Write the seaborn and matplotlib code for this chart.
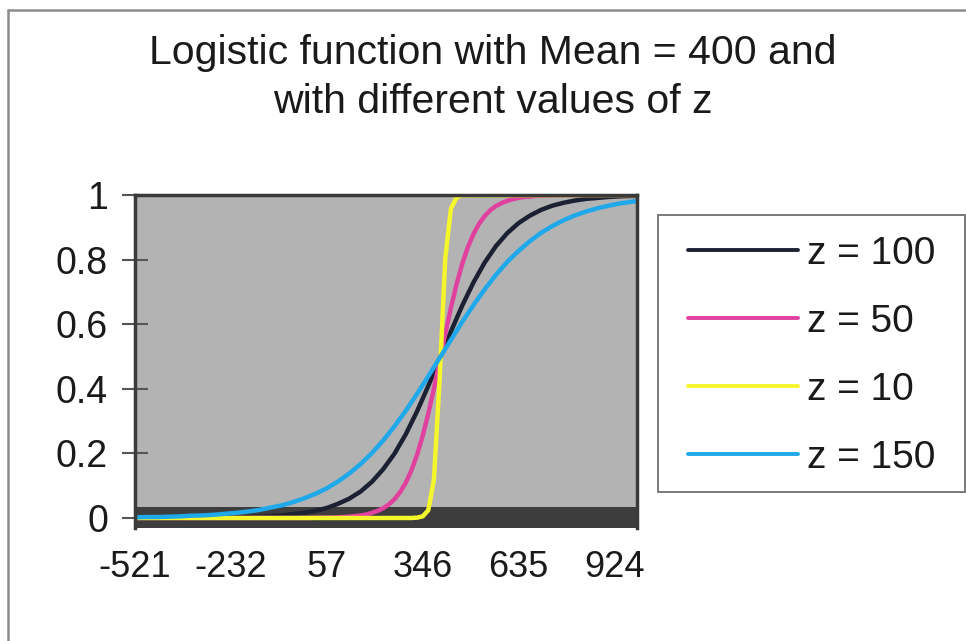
import matplotlib
matplotlib.use("Agg")
import matplotlib.pyplot as plt
from matplotlib.lines import Line2D
from matplotlib.patches import Rectangle
import seaborn as sns
import pandas as pd

# ---------------- data ----------------
x_ticks = [-521, -232, 57, 346, 635, 924]

x_z150 = [-521, -487, -453, -419, -385, -351, -317, -283, -249, -215, -181, -147,
          -113, -79, -45, -11, 23, 57, 91, 125, 159, 193, 227, 261, 295, 329, 363,
          397, 431, 465, 499, 533, 567, 601, 635, 669, 703, 737, 771, 805, 839, 873,
          907, 941, 975, 992]
y_z150 = [0.002, 0.003, 0.003, 0.004, 0.005, 0.007, 0.008, 0.010, 0.013, 0.016, 0.020,
          0.025, 0.032, 0.039, 0.049, 0.061, 0.075, 0.092, 0.113, 0.138, 0.167, 0.201,
          0.240, 0.284, 0.332, 0.384, 0.439, 0.495, 0.551, 0.607, 0.659, 0.708, 0.753,
          0.793, 0.827, 0.857, 0.883, 0.904, 0.922, 0.937, 0.949, 0.959, 0.967, 0.974,
          0.979, 0.981]

x_z100 = x_z150
y_z100 = [0.000, 0.000, 0.000, 0.000, 0.000, 0.001, 0.001, 0.001, 0.002, 0.002, 0.003,
          0.004, 0.006, 0.008, 0.012, 0.016, 0.022, 0.031, 0.044, 0.060, 0.082, 0.112,
          0.151, 0.199, 0.259, 0.330, 0.409, 0.493, 0.577, 0.657, 0.729, 0.791, 0.842,
          0.882, 0.913, 0.936, 0.954, 0.967, 0.976, 0.983, 0.988, 0.991, 0.994, 0.996,
          0.997, 0.997]

x_z50 = [-521, -11, 6, 23, 40, 57, 74, 91, 108, 125, 142, 159, 176, 193, 210, 227, 244,
         261, 278, 295, 312, 329, 346, 363, 380, 397, 414, 431, 448, 465, 482, 499, 516,
         533, 550, 567, 584, 601, 618, 635, 652, 669, 686, 703, 720, 737, 805, 992]
y_z50 = [0.000, 0.000, 0.000, 0.001, 0.001, 0.001, 0.001, 0.002, 0.003, 0.004, 0.006,
         0.008, 0.011, 0.016, 0.022, 0.030, 0.042, 0.058, 0.080, 0.109, 0.147, 0.195,
         0.254, 0.323, 0.401, 0.485, 0.570, 0.650, 0.723, 0.786, 0.838, 0.879, 0.911,
         0.935, 0.953, 0.966, 0.975, 0.982, 0.987, 0.991, 0.994, 0.995, 0.997, 0.998,
         0.998, 0.999, 1.000, 1.000]

x_z10 = [-521, 312, 329, 346, 363, 380, 397, 414, 431, 448, 465, 992]
y_z10 = [0.000, 0.000, 0.001, 0.005, 0.024, 0.119, 0.426, 0.802, 0.957, 0.992, 0.999, 1.000]

series_names = ["z = 100", "z = 50", "z = 10", "z = 150"]
series_colors = ["#1b2033", "#e0409e", "#f6f62c", "#1fa9ea"]

# ---------------- long table ----------------
frames = []
for name, xs, ys in [("z = 100", x_z100, y_z100), ("z = 50", x_z50, y_z50),
                     ("z = 10", x_z10, y_z10), ("z = 150", x_z150, y_z150)]:
    frames.append(pd.DataFrame({"x": xs, "y": ys, "series": name}))
df = pd.concat(frames, ignore_index=True)

sns.set_style("white")
plt.rcParams["font.family"] = ["Liberation Sans", "DejaVu Sans"]

W, H = 966, 641
fig = plt.figure(figsize=(W / 100, H / 100), dpi=100)
fig.patch.set_facecolor("white")

ax = fig.add_axes([135 / W, 1 - 528 / H, (637 - 135) / W, (528 - 195) / H])
ax.set_facecolor("#b3b3b3")

# dark "floor" band
ax.axhspan(-0.031, 0.034, color="#3d3d3d", zorder=0.5, lw=0)

sns.lineplot(data=df, x="x", y="y", hue="series", hue_order=series_names,
             palette=dict(zip(series_names, series_colors)), estimator=None,
             sort=False, linewidth=3.2, ax=ax, legend=True)

ax.get_legend().remove()

ax.set_xlim(-521, 992)
ax.set_ylim(-0.031, 1.0)
ax.set_xlabel("")
ax.set_ylabel("")

ax.set_xticks(x_ticks)
ax.set_xticklabels([str(v) for v in x_ticks])
ax.set_yticks([0, 0.2, 0.4, 0.6, 0.8, 1.0])
ax.set_yticklabels(["0", "0.2", "0.4", "0.6", "0.8", "1"])
ax.tick_params(axis="x", length=0, pad=16, labelsize=26, labelcolor="#1a1a1a")
ax.tick_params(axis="y", direction="inout", length=19, width=1.5, color="#555555",
               pad=10, labelsize=27, labelcolor="#1a1a1a", left=True)

for side in ["left", "top", "right"]:
    ax.spines[side].set_visible(True)
    ax.spines[side].set_color("#3a3a3a")
    ax.spines[side].set_linewidth(2.5)
ax.spines["bottom"].set_visible(False)

# title
fig.text(493 / W, 1 - 34 / H, "Logistic function with Mean = 400 and\nwith different values of z",
         ha="center", va="top", fontsize=29.5, linespacing=1.36, color="#1a1a1a")

# legend frame (drawn explicitly) and legend content
fig.add_artist(Rectangle((658 / W, 1 - 492 / H), (965 - 658) / W, (492 - 215) / H,
                         transform=fig.transFigure, facecolor="white",
                         edgecolor="#707070", lw=1.3, zorder=1))
leg_handles = [Line2D([0], [0], color=c, lw=2.8) for c in series_colors]
leg = fig.legend(leg_handles, series_names, loc="upper left",
                 bbox_to_anchor=(688 / W, 1 - 236 / H), bbox_transform=fig.transFigure,
                 frameon=False, fontsize=28, handlelength=2.83, handletextpad=0.23,
                 labelspacing=0.82, borderpad=0, borderaxespad=0)
leg.set_zorder(2)
for t in leg.get_texts():
    t.set_color("#1a1a1a")

# outer chart border (top and left visible)
fig.add_artist(Line2D([8 / W, 8 / W], [0, 1 - 10 / H], transform=fig.transFigure,
                      color="#8c8c8c", lw=1.8))
fig.add_artist(Line2D([8 / W, 1], [1 - 10 / H, 1 - 10 / H], transform=fig.transFigure,
                      color="#8c8c8c", lw=1.8))

fig.savefig("out.png", dpi=100, facecolor="white")
